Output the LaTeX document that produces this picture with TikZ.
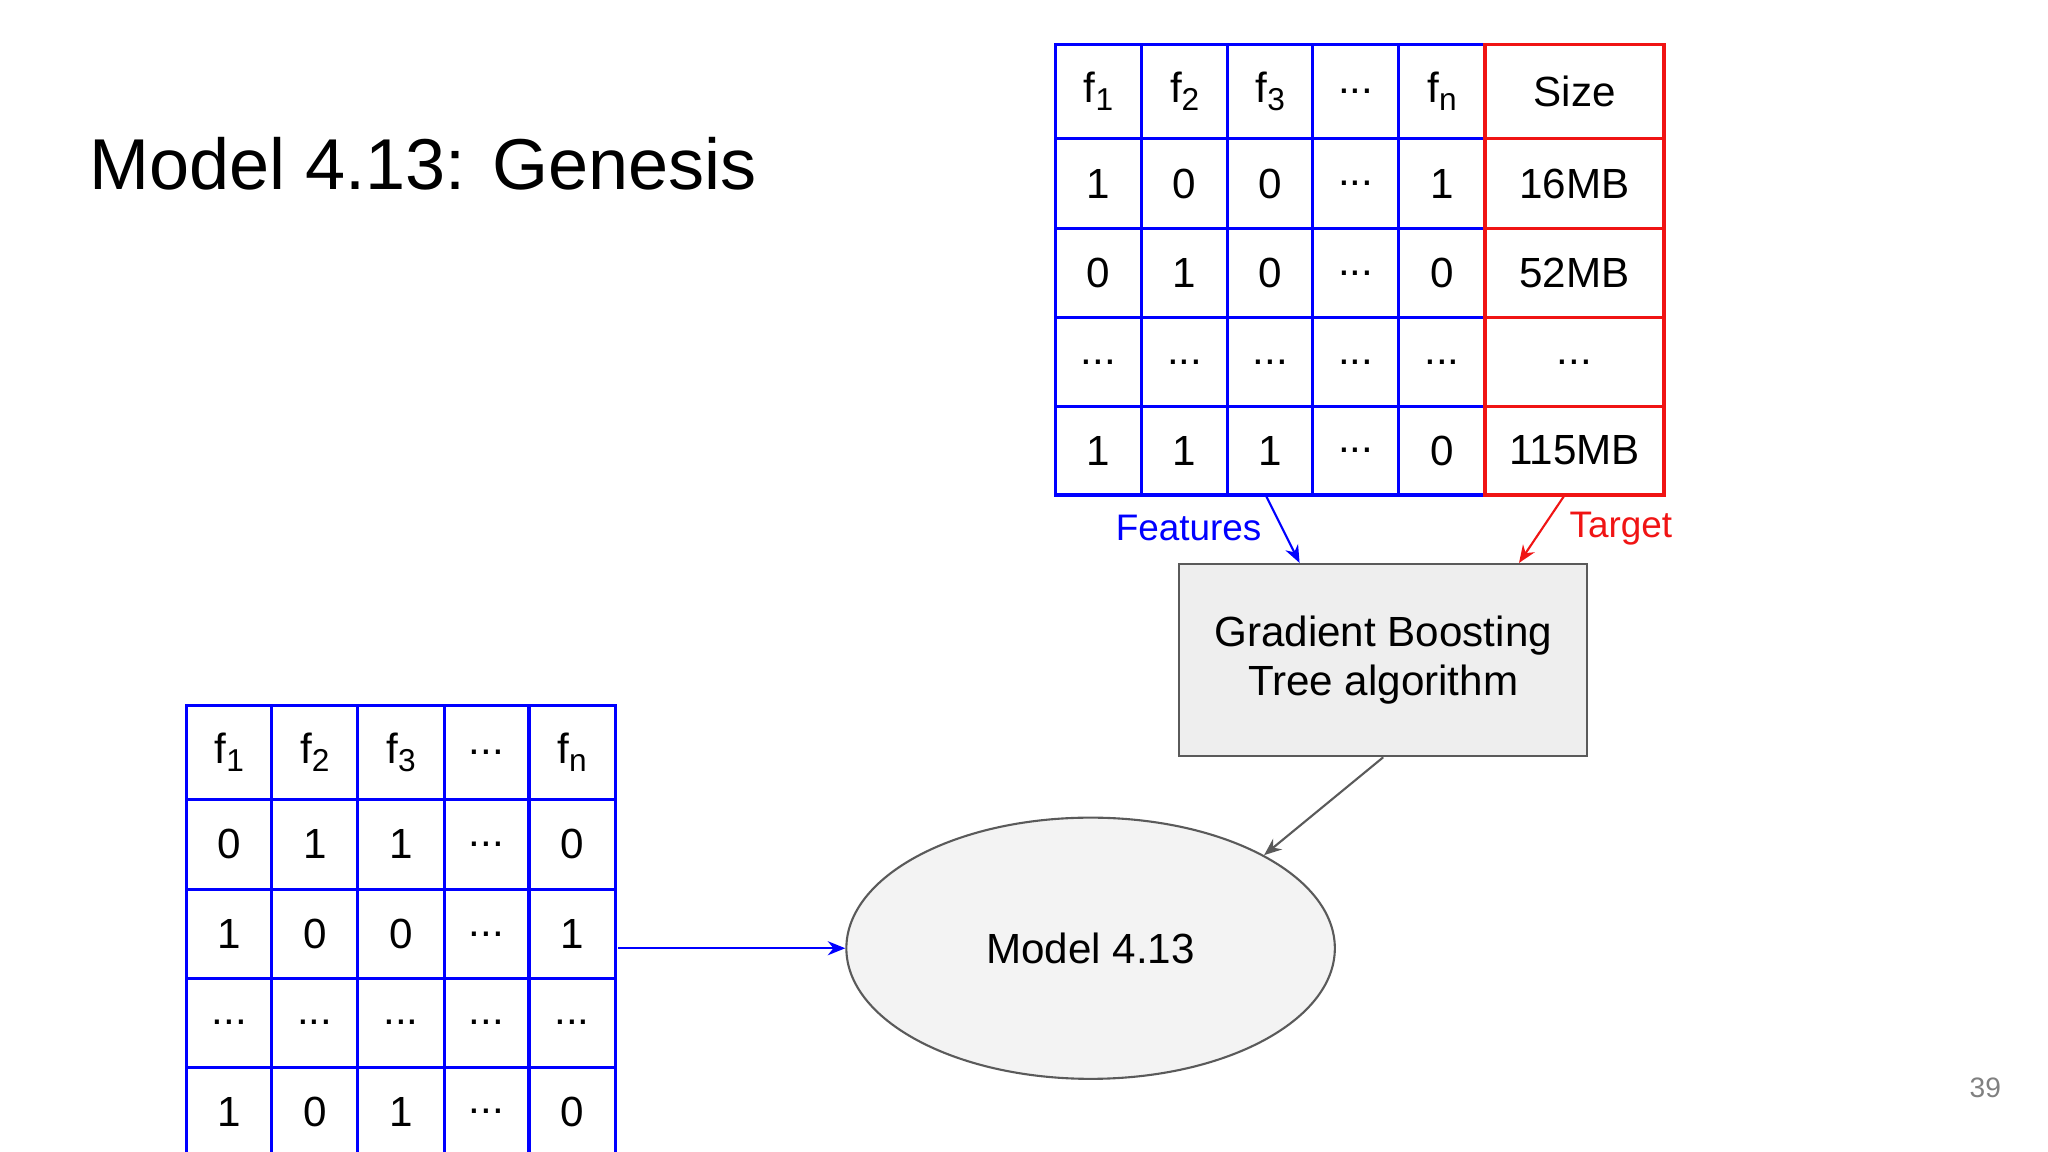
\documentclass[tikz,border=0pt]{standalone}
\usepackage{fontspec}
\setmainfont{Liberation Sans}
\usetikzlibrary{shapes.geometric,arrows.meta}
\definecolor{fblue}{RGB}{0,0,255}
\definecolor{tred}{RGB}{240,20,20}
\definecolor{boxfill}{RGB}{238,238,238}
\definecolor{edge}{RGB}{90,90,90}
\newcommand\dd{.\kern0pt.\kern0pt.}
\newcommand\fs[1]{f\raisebox{-0.35ex}{\fontsize{9}{10}\selectfont #1}}
\begin{document}
\begin{tikzpicture}[x=0.01306cm,y=-0.01306cm,
  cell/.style={draw, line width=0.9pt, inner sep=0pt, font=\fontsize{12}{14}\selectfont},
  link/.style={-{Stealth[length=5pt,width=4pt]}, line width=0.6pt},
  lbl/.style={font=\fontsize{10.5}{12}\selectfont}
]
\useasboundingbox (0,0) rectangle (1568,882);
\clip (0,0) rectangle (1568,882);

\node[anchor=base west, inner sep=0pt, font=\fontsize{20.5}{24}\selectfont] (title) at (68,145) {Model 4.13: Genesis};
\node[font=\fontsize{8}{10}\selectfont, text=gray] (page) at (1520,833) {39};

% top table
\def\topx{{841,907,972.5,1038,1104,1205.5}}
\def\topw{{66,66,65,66,66,137}}
\foreach \r/\yc/\h/\cells in {
  0/70/72/{\fs{1},\fs{2},\fs{3},\dd,\fs{n},Size},
  1/140.5/69/{1,0,0,\dd,1,16MB},
  2/209/68/{0,1,0,\dd,0,52MB},
  3/277/68/{\dd,\dd,\dd,\dd,\dd,\dd},
  4/345/68/{1,1,1,\dd,0,115MB}}{
  \foreach [count=\c from 0] \t in \cells {
    \pgfmathsetmacro\xc{\topx[\c]}
    \pgfmathsetmacro\w{\topw[\c]*0.01306}
    \pgfmathsetmacro\hh{\h*0.01306}
    \ifnum\c<5 \def\cc{fblue}\else\def\cc{tred}\fi
    \node[cell, draw=\cc, minimum width=\w cm, minimum height=\hh cm] (t-\r-\c) at (\xc,\yc) {\t};
  }
}

% bottom table
\def\botx{{175.5,241,307,372.5,438}}
\def\botw{{65,66,66,65,66}}
\foreach \r/\yc/\h/\cells in {
  0/576/72/{\fs{1},\fs{2},\fs{3},\dd,\fs{n}},
  1/646.5/69/{0,1,1,\dd,0},
  2/715/68/{1,0,0,\dd,1},
  3/783/68/{\dd,\dd,\dd,\dd,\dd},
  4/851/68/{1,0,1,\dd,0}}{
  \foreach [count=\c from 0] \t in \cells {
    \pgfmathsetmacro\xc{\botx[\c]}
    \pgfmathsetmacro\w{\botw[\c]*0.01306}
    \pgfmathsetmacro\hh{\h*0.01306}
    \node[cell, draw=fblue, minimum width=\w cm, minimum height=\hh cm] (b-\r-\c) at (\xc,\yc) {\t};
  }
}

\node[draw=edge, fill=boxfill, line width=0.6pt, minimum width=312*0.01306cm, minimum height=147*0.01306cm,
  align=center, font=\fontsize{12}{14}\selectfont] (gbt) at (1059,505.5) {Gradient Boosting\\Tree algorithm};
\node[ellipse, draw=edge, fill=boxfill!70!white, line width=0.6pt, minimum width=374*0.01306cm, minimum height=200*0.01306cm,
  font=\fontsize{12}{14}\selectfont] (model) at (835,726) {Model 4.13};

\coordinate (fsrc) at (969,379);
\coordinate (fdst) at (995,431);
\coordinate (tsrc) at (1198,379);
\coordinate (tdst) at (1163,431);
\coordinate (bsrc) at (473,726);
\draw[link, fblue] (fsrc) -- (fdst);
\draw[link, tred] (tsrc) -- (tdst);
\node[lbl, text=fblue] (flbl) at (910,404) {Features};
\node[lbl, text=tred] (tlbl) at (1241,405) {Target};
\draw[link, edge] (gbt.south) -- (model.north east);
\draw[link, fblue] (bsrc) -- (model.west);
\end{tikzpicture}
\end{document}
